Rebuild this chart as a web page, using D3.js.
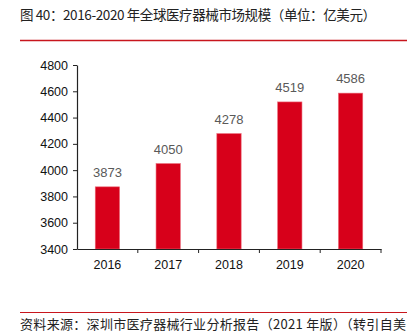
<!DOCTYPE html>
<html><head><meta charset="utf-8">
<script src="https://cdn.jsdelivr.net/npm/d3@7"></script>
<style>body{margin:0;background:#fff;} svg{display:block;}</style>
</head><body>
<script>
const years = ["2016","2017","2018","2019","2020"];
const values = [3873, 4050, 4278, 4519, 4586];
const yTicks = [3400,3600,3800,4000,4200,4400,4600,4800];
const titleText = "图 40：2016-2020 年全球医疗器械市场规模（单位：亿美元）";
const sourceText = "资料来源：深圳市医疗器械行业分析报告（2021 年版）（转引自美";

const W=413,H=334;
const svg=d3.select("body").append("svg").attr("width",W).attr("height",H);
const cjk="'Noto Sans CJK SC', sans-serif";
const lat="'Liberation Sans', Arial, sans-serif";

svg.append("text").attr("x",20).attr("y",20).attr("font-family",cjk).attr("font-size",13.5)
 .attr("textLength",356).attr("lengthAdjust","spacing").attr("fill","#222").text(titleText);
svg.append("line").attr("x1",20).attr("x2",407).attr("y1",40.5).attr("y2",40.5).attr("stroke","#c8161d").attr("stroke-width",1.5);

const x=d3.scaleBand().domain(years).range([77,381]).paddingInner(0.6).paddingOuter(0.3);
const y=d3.scaleLinear().domain([3400,4800]).range([249,65]);

const yAxis=svg.append("g").attr("transform","translate(77,0)").call(d3.axisLeft(y).tickValues(yTicks).tickFormat(d3.format("d")).tickSize(4).tickSizeOuter(0));
yAxis.selectAll("text").attr("font-family",lat).attr("font-size",12.5).attr("fill","#111").attr("dx",-2);
yAxis.select(".domain").attr("stroke","#222").attr("stroke-width",1.2);
yAxis.selectAll(".tick line").attr("stroke","#222");

svg.selectAll("rect.bar").data(values).join("rect").attr("class","bar")
 .attr("x",(d,i)=>x(years[i])).attr("width",x.bandwidth())
 .attr("y",d=>y(d)).attr("height",d=>y(3400)-y(d))
 .attr("fill","#d7001a").attr("stroke","#ec6a78").attr("stroke-width",0.6);

svg.selectAll("text.val").data(values).join("text").attr("class","val")
 .attr("x",(d,i)=>x(years[i])+x.bandwidth()/2).attr("y",d=>y(d)-10)
 .attr("text-anchor","middle").attr("font-family",lat).attr("font-size",13).attr("fill","#595959").text(d=>d);

const xAxis=svg.append("g").attr("transform","translate(0,249)").call(d3.axisBottom(x).tickSize(0));
xAxis.select(".domain").attr("stroke","#222").attr("stroke-width",1.2);
xAxis.selectAll("text").attr("font-family",lat).attr("font-size",12.5).attr("fill","#111").attr("dy","1.35em");
const bounds=[...years.map(d=>x(d)-x.step()*x.paddingInner()/2).slice(1), 381];
svg.selectAll("line.sep").data(bounds).join("line").attr("class","sep")
 .attr("x1",d=>d).attr("x2",d=>d).attr("y1",249).attr("y2",253).attr("stroke","#222");

svg.append("line").attr("x1",20).attr("x2",407).attr("y1",312.5).attr("y2",312.5).attr("stroke","#c8161d").attr("stroke-width",1);
svg.append("text").attr("x",20).attr("y",329).attr("font-family",cjk).attr("font-size",13)
 .attr("textLength",386).attr("lengthAdjust","spacing").attr("fill","#222").text(sourceText);
</script>
</body></html>
